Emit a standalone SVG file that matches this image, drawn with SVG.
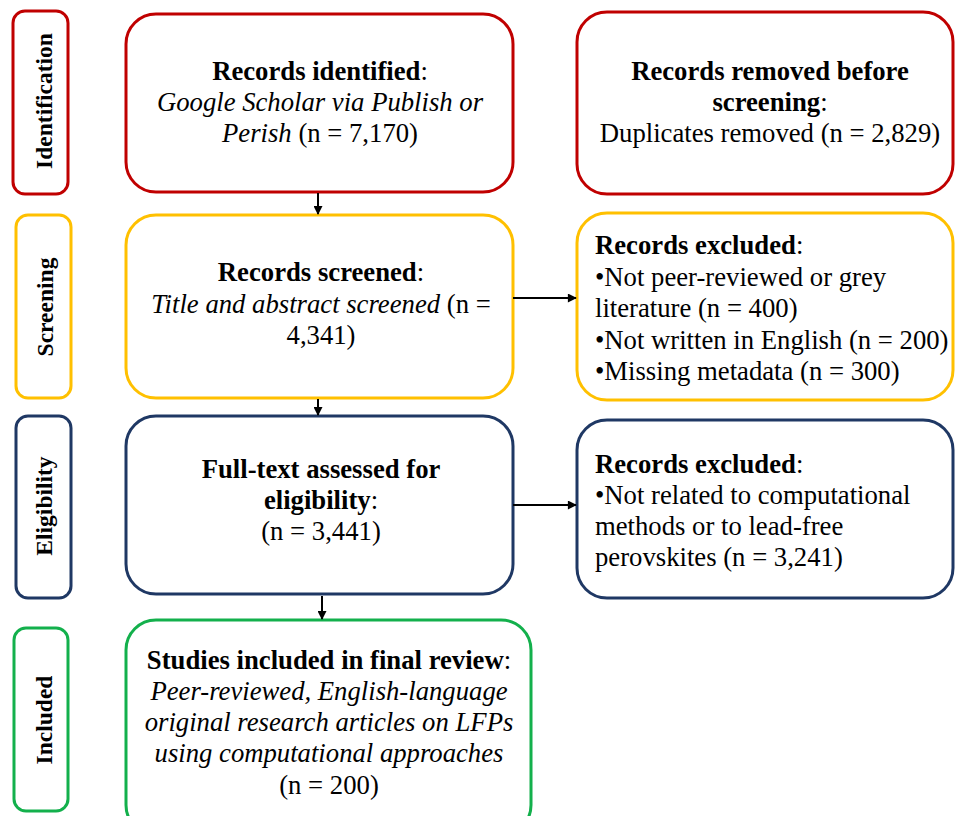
<svg xmlns="http://www.w3.org/2000/svg" width="955" height="816" viewBox="0 0 955 816">
<defs>
<marker id="ah" viewBox="0 0 10 10" refX="9" refY="5" markerWidth="10" markerHeight="9" markerUnits="userSpaceOnUse" orient="auto"><path d="M0,0 L10,5 L0,10 z" fill="#000"/></marker>
<style>
text{font-family:"Liberation Serif","Times New Roman",serif;font-size:26.7px;fill:#000}
.b{font-weight:bold}
.i{font-style:italic}
.lab{font-size:23.5px;font-weight:bold}
.c{text-anchor:middle}
.box{fill:#fff;stroke-width:3}
.red{stroke:#C00000}.yel{stroke:#FFC000}.nav{stroke:#1F3864}.grn{stroke:#13B04C}
.con{stroke:#000;stroke-width:2;fill:none;marker-end:url(#ah)}
</style>
</defs>
<rect width="955" height="816" fill="#fff"/>
<g id="label-identification"><rect class="box red" x="13" y="11" width="55" height="183" rx="12"/><text class="lab c" transform="translate(52,101) rotate(-90)">Identification</text></g>
<g id="label-screening"><rect class="box yel" x="16" y="215" width="55" height="183" rx="12"/><text class="lab c" transform="translate(53,307) rotate(-90)">Screening</text></g>
<g id="label-eligibility"><rect class="box nav" x="16" y="416" width="55" height="182" rx="12"/><text class="lab c" transform="translate(52,506) rotate(-90)">Eligibility</text></g>
<g id="label-included"><rect class="box grn" x="14" y="628" width="54" height="183" rx="12"/><text class="lab c" transform="translate(52,720) rotate(-90)">Included</text></g>
<g id="records-identified"><rect class="box red" x="126" y="14" width="387" height="178" rx="30"/>
<text class="c" x="320" y="80"><tspan class="b">Records identified</tspan>:</text>
<text class="c i" x="320" y="111">Google Scholar via Publish or</text>
<text class="c" x="320" y="142"><tspan class="i">Perish</tspan> (n = 7,170)</text></g>
<g id="records-removed"><rect class="box red" x="577" y="12" width="376" height="182" rx="30"/>
<text class="c b" x="770" y="80">Records removed before</text>
<text class="c" x="770" y="111"><tspan class="b">screening</tspan>:</text>
<text class="c" x="770" y="142">Duplicates removed (n = 2,829)</text></g>
<g id="records-screened"><rect class="box yel" x="126" y="215" width="387" height="183" rx="30"/>
<text class="c" x="321" y="281"><tspan class="b">Records screened</tspan>:</text>
<text class="c" x="321" y="313"><tspan class="i">Title and abstract screened</tspan> (n =</text>
<text class="c" x="321" y="344">4,341)</text></g>
<g id="records-excluded-1"><rect class="box yel" x="577" y="213" width="376" height="187" rx="30"/>
<text x="595" y="254"><tspan class="b">Records excluded</tspan>:</text>
<text x="595" y="285.5">•Not peer-reviewed or grey</text>
<text x="595" y="317">literature (n = 400)</text>
<text x="595" y="348.5">•Not written in English (n = 200)</text>
<text x="595" y="380">•Missing metadata (n = 300)</text></g>
<g id="full-text"><rect class="box nav" x="126" y="416" width="387" height="178" rx="30"/>
<text class="c b" x="321" y="478">Full-text assessed for</text>
<text class="c" x="321" y="509"><tspan class="b">eligibility</tspan>:</text>
<text class="c" x="321" y="540">(n = 3,441)</text></g>
<g id="records-excluded-2"><rect class="box nav" x="577" y="420" width="376" height="178" rx="30"/>
<text x="595" y="473"><tspan class="b">Records excluded</tspan>:</text>
<text x="595" y="504">•Not related to computational</text>
<text x="595" y="535">methods or to lead-free</text>
<text x="595" y="566">perovskites (n = 3,241)</text></g>
<g id="studies-included"><rect class="box grn" x="126" y="620" width="405" height="215" rx="30"/>
<text class="c" x="329" y="669"><tspan class="b">Studies included in final review</tspan>:</text>
<text class="c i" x="329" y="700">Peer-reviewed, English-language</text>
<text class="c i" x="329" y="731">original research articles on LFPs</text>
<text class="c i" x="329" y="762">using computational approaches</text>
<text class="c" x="329" y="794">(n = 200)</text></g>
<g id="connectors">
<line class="con" x1="318" y1="193" x2="318" y2="214"/>
<line class="con" x1="513" y1="298" x2="576" y2="298"/>
<line class="con" x1="318" y1="399" x2="318" y2="415"/>
<line class="con" x1="513" y1="505" x2="576" y2="505"/>
<line class="con" x1="322" y1="596" x2="322" y2="619"/>
</g>
</svg>
